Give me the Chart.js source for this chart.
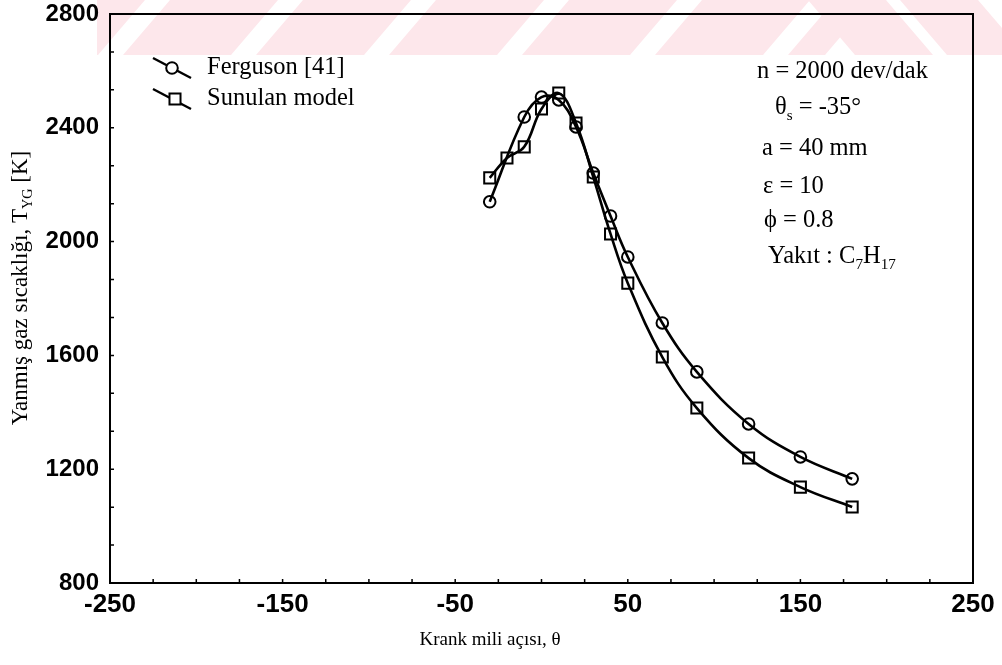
<!DOCTYPE html>
<html>
<head>
<meta charset="utf-8">
<script src="https://cdn.jsdelivr.net/npm/chart.js@4.4.0/dist/chart.umd.min.js"></script>
<style>
  html, body { margin: 0; padding: 0; background: #fff; }
  #kutu { width: 1002px; height: 665px; }
</style>
</head>
<body>
<div id="kutu"><canvas id="myChart" width="1002" height="665"></canvas></div>
<script>
// Krank mili açısı (derece) ve yanmış gaz sıcaklığı (K)
const aciFerguson = [-30, -10, 0, 10, 20, 30, 40, 50, 70, 90, 120, 150, 180];
const sicaklikFerguson = [2140, 2438, 2508, 2498, 2403, 2241, 2090, 1946, 1714, 1542, 1359, 1243, 1166];

const aciModel = [-30, -20, -10, 0, 10, 20, 30, 40, 50, 70, 90, 120, 150, 180];
const sicaklikModel = [2224, 2294, 2333, 2466, 2522, 2417, 2227, 2027, 1854, 1594, 1415, 1239, 1137, 1067];

const xEtiketleri = [-250, -150, -50, 50, 150, 250];
const yEtiketleri = [800, 1200, 1600, 2000, 2400, 2800];

// Sağ üstteki çalışma koşulları: [metin, altindis mi]
const kosullar = [
  [["n = 2000 dev/dak", 0]],
  [["θ", 0], ["s", 1], [" = -35°", 0]],
  [["a = 40 mm", 0]],
  [["ε = 10", 0]],
  [["ϕ = 0.8", 0]],
  [["Yakıt : C", 0], ["7", 1], ["H", 0], ["17", 1]]
];

const ctx = document.getElementById("myChart");
const serif = "'Liberation Serif', 'Times New Roman', serif";

// Küçük tik konumları
const xTikleri = [];
for (let v = -250; v <= 250; v += 25) xTikleri.push(v);
const yTikleri = [];
for (let i = 0; i <= 15; i++) yTikleri.push(800 + (i * 400) / 3);

function etiketMi(liste, v) {
  return liste.some((e) => Math.abs(e - v) < 1e-6);
}

// Altindisli metni parça parça yazar
function parcaliYaz(c, parcalar, x, y, boyut) {
  let px = x;
  parcalar.forEach(([metin, alt]) => {
    const b = alt ? boyut * 0.62 : boyut;
    c.font = `${b}px ${serif}`;
    c.fillText(metin, px, y + (alt ? boyut * 0.32 : 0));
    px += c.measureText(metin).width;
  });
  return px - x;
}

function parcaliGenislik(c, parcalar, boyut) {
  let w = 0;
  parcalar.forEach(([metin, alt]) => {
    c.font = `${alt ? boyut * 0.62 : boyut}px ${serif}`;
    w += c.measureText(metin).width;
  });
  return w;
}

// Üstteki soluk pembe şerit deseni
const filigran = {
  id: "filigran",
  beforeDraw(chart) {
    const c = chart.ctx;
    c.save();
    c.fillStyle = "#fde7eb";
    c.beginPath();
    c.rect(97, 0, 905, 55);
    c.clip();
    for (let k = -1; k < 6; k++) {
      const a = 170 + 133 * k;
      if (a > 860) break;
      const b = Math.min(a + 108, 872);
      c.beginPath();
      c.moveTo(a, 0);
      c.lineTo(b, 0);
      c.lineTo(b - 47, 55);
      c.lineTo(a - 47, 55);
      c.closePath();
      c.fill();
    }
    [[898, 965], [990, 1060]].forEach(([a, b]) => {
      c.beginPath();
      c.moveTo(a - 90, 0);
      c.lineTo(a - 12, 0);
      c.lineTo(a + 35, 55);
      c.lineTo(a - 43, 55);
      c.closePath();
      c.fill();
    });
    c.restore();
  }
};

// Çerçeve, içe dönük tikler, açıklama ve yazılar
const cizimler = {
  id: "cizimler",
  afterDraw(chart) {
    const c = chart.ctx;
    const { left, right, top, bottom } = chart.chartArea;
    const sx = chart.scales.x;
    const sy = chart.scales.y;
    c.save();
    c.strokeStyle = "#000";
    c.lineWidth = 2;
    c.strokeRect(left, top, right - left, bottom - top);

    c.lineWidth = 1.5;
    c.beginPath();
    sx.ticks.forEach((t) => {
      const px = sx.getPixelForValue(t.value);
      c.moveTo(px, bottom);
      c.lineTo(px, bottom - 4);
    });
    sy.ticks.forEach((t) => {
      const py = sy.getPixelForValue(t.value);
      c.moveTo(left, py);
      c.lineTo(left + 4, py);
    });
    c.stroke();

    // Açıklama
    c.fillStyle = "#000";
    c.textBaseline = "middle";
    c.textAlign = "left";
    const satirY = [68, 99];
    chart.data.datasets.forEach((ds, i) => {
      const y = satirY[i];
      const mx = i === 0 ? 172 : 175;
      c.strokeStyle = "#000";
      c.lineWidth = 2.4;
      c.beginPath();
      c.moveTo(153, y - 10);
      c.lineTo(191, y + 10);
      c.stroke();
      c.fillStyle = "#fff";
      c.lineWidth = 2;
      Chart.helpers.drawPoint(c, {
        pointStyle: ds.pointStyle,
        radius: ds.pointRadius,
        rotation: 0,
        borderWidth: 2
      }, mx, y);
      c.fillStyle = "#000";
      c.font = `24.5px ${serif}`;
      c.fillText(ds.label, 207, y);
    });

    // Koşullar
    const kx = [757, 775, 762, 763, 764, 768];
    const ky = [72, 108, 149, 187, 221, 257];
    kosullar.forEach((satir, i) => parcaliYaz(c, satir, kx[i], ky[i], 24.5));

    // Eksen başlıkları
    c.font = `19px ${serif}`;
    c.textAlign = "center";
    c.fillText("Krank mili açısı, θ", 490, 640);

    const yBaslik = [["Yanmış gaz sıcaklığı, T", 0], ["YG", 1], [" [K]", 0]];
    c.translate(21, 288);
    c.rotate(-Math.PI / 2);
    c.textAlign = "left";
    const w = parcaliGenislik(c, yBaslik, 23);
    parcaliYaz(c, yBaslik, -w / 2, 0, 23);
    c.restore();
  }
};

const cizgiStili = {
  borderColor: "#000",
  borderWidth: 2.6,
  tension: 0.4,
  pointBorderColor: "#000",
  pointBackgroundColor: "rgba(255,255,255,0)",
  pointBorderWidth: 2,
  fill: false
};

new Chart(ctx, {
  type: "line",
  data: {
    datasets: [
      {
        ...cizgiStili,
        label: "Ferguson [41]",
        data: aciFerguson.map((x, i) => ({ x, y: sicaklikFerguson[i] })),
        pointStyle: "circle",
        pointRadius: 5.8
      },
      {
        ...cizgiStili,
        label: "Sunulan model",
        data: aciModel.map((x, i) => ({ x, y: sicaklikModel[i] })),
        pointStyle: "rect",
        pointRadius: 7.8
      }
    ]
  },
  options: {
    responsive: false,
    animation: false,
    devicePixelRatio: 1,
    layout: { padding: { top: 14, right: 29, left: 0, bottom: 0 } },
    plugins: {
      legend: { display: false },
      tooltip: { enabled: false }
    },
    scales: {
      x: {
        type: "linear",
        min: -250,
        max: 250,
        afterBuildTicks: (s) => {
          s.ticks = xTikleri.map((v) => ({ value: v }));
        },
        afterFit: (s) => {
          s.height = 82;
          s.paddingLeft = 0;
          s.paddingRight = 0;
        },
        grid: { display: false, drawTicks: false },
        border: { display: false },
        ticks: {
          autoSkip: false,
          maxRotation: 0,
          padding: 6,
          color: "#000",
          font: { family: "'Liberation Sans', Arial", size: 26, weight: "bold" },
          callback: (v) => (etiketMi(xEtiketleri, v) ? String(v) : "")
        }
      },
      y: {
        min: 800,
        max: 2800,
        afterBuildTicks: (s) => {
          s.ticks = yTikleri.map((v) => ({ value: v }));
        },
        afterFit: (s) => {
          s.width = 110;
          s.paddingTop = 0;
          s.paddingBottom = 0;
        },
        grid: { display: false, drawTicks: false },
        border: { display: false },
        ticks: {
          autoSkip: false,
          padding: 11,
          color: "#000",
          font: { family: "'Liberation Sans', Arial", size: 24, weight: "bold" },
          callback: (v) => (etiketMi(yEtiketleri, v) ? String(Math.round(v)) : "")
        }
      }
    }
  },
  plugins: [filigran, cizimler]
});
</script>
</body>
</html>
